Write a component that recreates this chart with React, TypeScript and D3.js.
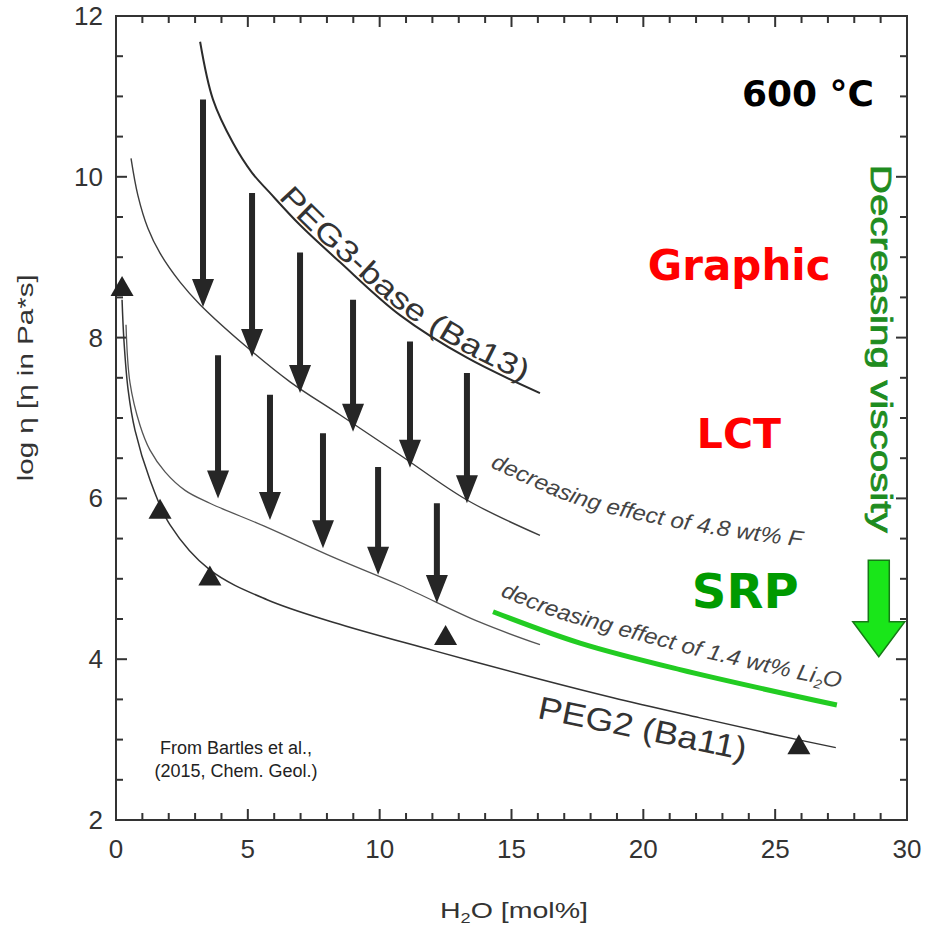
import React, { Component } from "react";
import * as d3 from "d3";

// viscosity curves: [H2O mol%, log eta]
const peg3Curve = [[3.19, 11.68], [3.68, 10.96], [4.44, 10.42], [5.16, 10.05], [5.84, 9.8], [6.98, 9.4], [8.49, 8.94], [10.77, 8.28], [13.31, 7.75], [16.08, 7.31]];
const fCurve = [[0.57, 10.23], [0.83, 9.77], [1.21, 9.36], [1.67, 9.05], [2.43, 8.69], [3.19, 8.41], [4.97, 7.88], [6.6, 7.45], [8.49, 7.04], [10.77, 6.54], [13.31, 5.98], [16.08, 5.54]];
const liCurve = [[0.38, 8.16], [0.53, 7.44], [0.91, 6.91], [1.29, 6.6], [1.86, 6.33], [2.62, 6.1], [3.56, 5.94], [5.73, 5.64], [8.23, 5.27], [10.77, 4.92], [13.8, 4.46], [16.08, 4.18]];
const peg2Curve = [[0.23, 8.47], [0.3, 7.97], [0.46, 7.35], [0.72, 6.85], [1.29, 6.23], [2.05, 5.67], [3.56, 5.11], [5.73, 4.74], [8.23, 4.46], [12.02, 4.11], [16.08, 3.75], [18.85, 3.52], [22.15, 3.27], [24.99, 3.06], [27.3, 2.9]];
const srpCurve = [[14.3, 4.59], [17.6, 4.2], [21.39, 3.87], [27.34, 3.43]];
const peg2Points = [[0.23, 8.6], [1.67, 5.83], [3.56, 5.0], [12.5, 4.26], [25.9, 2.9]];

// arrows: x, from, to
const upperArrowX = [3.3, 5.16, 6.98, 8.99, 11.15, 13.31];
const upperArrowFrom = [10.96, 9.8, 9.06, 8.47, 7.95, 7.56];
const upperArrowTo = [8.38, 7.76, 7.31, 6.83, 6.38, 5.94];
const lowerArrowX = [3.87, 5.84, 7.85, 9.94, 12.17];
const lowerArrowFrom = [7.78, 7.29, 6.81, 6.39, 5.94];
const lowerArrowTo = [6.0, 5.73, 5.38, 5.05, 4.7];

// label baselines
const fLabelPath = [[14.18, 6.39], [16.27, 6.08], [18.35, 5.84], [22.15, 5.58], [26.01, 5.4]];
const liLabelPath = [[14.56, 4.79], [16.65, 4.52], [18.92, 4.31], [22.9, 3.97], [27.46, 3.64]];

const xTickLabels = [0, 5, 10, 15, 20, 25, 30];
const yTickLabels = [2, 4, 6, 8, 10, 12];

const SANS = "'Liberation Sans', Arial, sans-serif";
const BOLD = "'DejaVu Sans', Verdana, sans-serif";

function arrowPath(cx: number, y0: number, y1: number, shaft: number, headW: number, headL: number) {
  const yb = y1 - headL;
  return `M${cx - shaft / 2},${y0}L${cx + shaft / 2},${y0}L${cx + shaft / 2},${yb}L${cx + headW / 2},${yb}L${cx},${y1}L${cx - headW / 2},${yb}L${cx - shaft / 2},${yb}Z`;
}

class Chart extends Component {
  ref = React.createRef<SVGSVGElement>();

  componentDidMount() {
    const svg = d3.select(this.ref.current);
    svg.selectAll("*").remove();

    const x = d3.scaleLinear().domain([0, 30]).range([116, 907]);
    const y = d3.scaleLinear().domain([2, 12]).range([820, 16]);
    const [x0, x1] = x.range();
    const [y0, y1] = y.range();

    const defs = svg.append("defs");

    // frame + inward ticks on all sides
    svg.append("rect").attr("x", x0).attr("y", y1).attr("width", x1 - x0).attr("height", y0 - y1)
      .attr("fill", "none").attr("stroke", "#333").attr("stroke-width", 2);

    const xt = d3.range(0, 31, 1);
    const yt = d3.range(2, 12.01, 0.5);
    const ticks = svg.append("g").attr("stroke", "#333").attr("stroke-width", 2);
    ticks.selectAll(".xb").data(xt).join("line").attr("class", "xb")
      .attr("x1", d => x(d)).attr("x2", d => x(d)).attr("y1", y0).attr("y2", d => y0 - (d % 5 === 0 ? 11 : 7));
    ticks.selectAll(".xt").data(xt).join("line").attr("class", "xt")
      .attr("x1", d => x(d)).attr("x2", d => x(d)).attr("y1", y1).attr("y2", d => y1 + (d % 5 === 0 ? 11 : 7));
    ticks.selectAll(".yl").data(yt).join("line").attr("class", "yl")
      .attr("y1", d => y(d)).attr("y2", d => y(d)).attr("x1", x0).attr("x2", d => x0 + (d % 2 === 0 ? 11 : 7));
    ticks.selectAll(".yr").data(yt).join("line").attr("class", "yr")
      .attr("y1", d => y(d)).attr("y2", d => y(d)).attr("x1", x1).attr("x2", d => x1 - (d % 2 === 0 ? 11 : 7));

    svg.selectAll(".xlab").data(xTickLabels).join("text").attr("class", "xlab")
      .attr("x", d => x(d)).attr("y", y0 + 38).attr("text-anchor", "middle")
      .attr("font-family", SANS).attr("font-size", 26).attr("fill", "#333").text(d => d);
    svg.selectAll(".ylab").data(yTickLabels).join("text").attr("class", "ylab")
      .attr("x", x0 - 13).attr("y", d => y(d) + 9).attr("text-anchor", "end")
      .attr("font-family", SANS).attr("font-size", 26).attr("fill", "#333").text(d => d);

    // axis titles
    const xTitle = svg.append("text").attr("x", 440).attr("y", 918).attr("font-family", SANS)
      .attr("font-size", 22).attr("fill", "#333").attr("textLength", 148).attr("lengthAdjust", "spacingAndGlyphs");
    xTitle.append("tspan").text("H");
    xTitle.append("tspan").attr("font-size", 14).attr("dy", 5).text("2");
    xTitle.append("tspan").attr("dy", -5).text("O [mol%]");

    svg.append("text").attr("transform", `translate(33,${(y(6.2) + y(8.8)) / 2}) rotate(-90)`)
      .attr("text-anchor", "middle").attr("font-family", SANS).attr("font-size", 22).attr("fill", "#333")
      .attr("textLength", 207).attr("lengthAdjust", "spacingAndGlyphs").text("log \u03b7 [\u03b7 in Pa*s]");

    const line = d3.line<number[]>().x(d => x(d[0])).y(d => y(d[1])).curve(d3.curveCatmullRom.alpha(0.5));

    const curves = [
      { pts: peg3Curve, w: 2, c: "#2b2b2b" },
      { pts: fCurve, w: 1.4, c: "#3d3d3d" },
      { pts: liCurve, w: 1.3, c: "#555" },
      { pts: peg2Curve, w: 1.5, c: "#333" },
    ];
    svg.selectAll(".curve").data(curves).join("path").attr("class", "curve")
      .attr("d", d => line(d.pts)).attr("fill", "none").attr("stroke", d => d.c).attr("stroke-width", d => d.w);

    svg.append("path").attr("d", line(srpCurve)).attr("fill", "none").attr("stroke", "#22cc22").attr("stroke-width", 5);

    // triangles
    const tri = d3.symbol().type(d3.symbolTriangle).size(230);
    svg.selectAll(".tri").data(peg2Points).join("path").attr("class", "tri")
      .attr("transform", d => `translate(${x(d[0])},${y(d[1])})`).attr("d", tri()).attr("fill", "#222");

    // black arrows
    const arrows = [
      ...upperArrowX.map((v, i) => [v, upperArrowFrom[i], upperArrowTo[i]]),
      ...lowerArrowX.map((v, i) => [v, lowerArrowFrom[i], lowerArrowTo[i]]),
    ];
    svg.selectAll(".arr").data(arrows).join("path").attr("class", "arr")
      .attr("d", d => arrowPath(x(d[0]), y(d[1]), y(d[2]), 6, 22, 28)).attr("fill", "#262626");

    // labels along curves
    const peg3Path = defs.append("path").attr("id", "peg3-lab")
      .attr("d", d3.line<number[]>().x(d => x(d[0])).y(d => y(d[1]) - 4).curve(d3.curveCatmullRom.alpha(0.5))(peg3Curve.filter(d => d[0] >= 5.8)));
    const peg3Len = (peg3Path.node() as SVGPathElement).getTotalLength();
    svg.append("text").attr("font-family", SANS).attr("font-size", 30).attr("fill", "#333")
      .append("textPath").attr("href", "#peg3-lab").attr("startOffset", 12)
      .attr("textLength", peg3Len - 30).attr("lengthAdjust", "spacingAndGlyphs").text("PEG3-base (Ba13)");

    const labLine = d3.line<number[]>().x(d => x(d[0])).y(d => y(d[1])).curve(d3.curveNatural);
    const fPath = defs.append("path").attr("id", "f-lab").attr("d", labLine(fLabelPath));
    const fLen = (fPath.node() as SVGPathElement).getTotalLength();
    svg.append("text").attr("font-family", SANS).attr("font-size", 22).attr("font-style", "italic").attr("fill", "#444")
      .append("textPath").attr("href", "#f-lab").attr("textLength", fLen).attr("lengthAdjust", "spacingAndGlyphs")
      .text("decreasing effect of 4.8 wt% F");

    const liPath = defs.append("path").attr("id", "li-lab").attr("d", labLine(liLabelPath));
    const liLen = (liPath.node() as SVGPathElement).getTotalLength();
    const liTp = svg.append("text").attr("font-family", SANS).attr("font-size", 22).attr("font-style", "italic").attr("fill", "#444")
      .append("textPath").attr("href", "#li-lab").attr("textLength", liLen).attr("lengthAdjust", "spacingAndGlyphs");
    liTp.append("tspan").text("decreasing effect of 1.4 wt% Li");
    liTp.append("tspan").attr("font-size", 13).attr("dy", 5).text("2");
    liTp.append("tspan").attr("dy", -5).text("O");

    svg.append("text").attr("transform", `translate(${x(15.95)},${y(3.27)}) rotate(11.5)`)
      .attr("font-family", SANS).attr("font-size", 32).attr("fill", "#333")
      .attr("textLength", 212).attr("lengthAdjust", "spacingAndGlyphs").text("PEG2 (Ba11)");

    // rock type labels
    const bold = (t: string, px: number, py: number, size: number, color: string) =>
      svg.append("text").attr("x", x(px)).attr("y", y(py)).attr("font-family", BOLD).attr("font-weight", "bold")
        .attr("font-size", size).attr("fill", color).text(t);
    bold("600 \u00b0C", 23.74, 10.88, 36, "#000");
    bold("Graphic", 20.17, 8.72, 42, "#ff0000");
    bold("LCT", 22.03, 6.63, 41, "#ff0000");
    bold("SRP", 21.84, 4.64, 48, "#009a00");

    // decreasing viscosity
    svg.append("text").attr("transform", `translate(${x(28.63)},${y(10.15)}) rotate(90)`)
      .attr("font-family", SANS).attr("font-size", 30).attr("fill", "#1f8c1f")
      .attr("stroke", "#1f8c1f").attr("stroke-width", 0.8)
      .attr("textLength", 368).attr("lengthAdjust", "spacingAndGlyphs").text("Decreasing viscosity");
    svg.append("path").attr("d", arrowPath(x(28.93), y(5.23), y(4.03), 21, 52, 35))
      .attr("fill", "#19e619").attr("stroke", "#167a16").attr("stroke-width", 1.5);

    // source note
    svg.selectAll(".src").data(["From Bartles et al.,", "(2015, Chem. Geol.)"]).join("text").attr("class", "src")
      .attr("x", x(4.55)).attr("y", (d, i) => y(2.82) + i * 23).attr("text-anchor", "middle")
      .attr("font-family", SANS).attr("font-size", 18).attr("fill", "#222").text(d => d);
  }

  render() {
    return <svg ref={this.ref} width={934} height={925} style={{ position: "absolute", left: 0, top: 0, background: "#fff" }} />;
  }
}

export default function App() {
  return <Chart />;
}
